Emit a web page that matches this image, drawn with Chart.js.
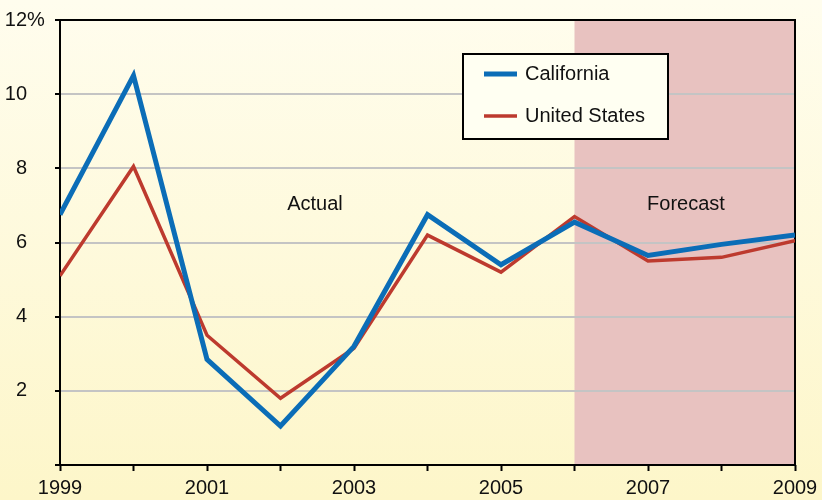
<!DOCTYPE html>
<html>
<head>
<meta charset="utf-8">
<script src="https://cdn.jsdelivr.net/npm/chart.js@4/dist/chart.umd.min.js"></script>
<style>
  html, body { margin: 0; padding: 0; }
  body { width: 822px; height: 500px; background: linear-gradient(#fffdee, #fdf6c9); overflow: hidden; }
  canvas { display: block; }
</style>
</head>
<body>
<canvas id="chart" width="822" height="500"></canvas>
<script>
// data
var years = [1999, 2000, 2001, 2002, 2003, 2004, 2005, 2006, 2007, 2008, 2009];
var california = [6.75, 10.5, 2.85, 1.05, 3.2, 6.75, 5.4, 6.55, 5.65, 5.95, 6.2];
var unitedStates = [5.1, 8.05, 3.5, 1.8, 3.15, 6.2, 5.2, 6.7, 5.5, 5.6, 6.05];
var seriesNames = ['California', 'United States'];
var forecastFrom = 2006, forecastTo = 2009;

var blue = '#0b6db7', red = '#bd3a2e';
var font = "'Liberation Sans', Arial, sans-serif";
var fs = 20;

function toPoints(vals) {
    return years.map(function (y, i) { return { x: y, y: vals[i] }; });
}

// band goes under the gridlines
var band = {
    id: 'band',
    beforeDraw: function (chart) {
        var c = chart.ctx, a = chart.chartArea, xs = chart.scales.x;
        var x0 = xs.getPixelForValue(forecastFrom), x1 = xs.getPixelForValue(forecastTo);
        c.save();
        c.fillStyle = '#e8c2c0';
        c.fillRect(x0, a.top, x1 - x0, a.bottom - a.top);
        c.restore();
    }
};

// box border, labels, legend
var decor = {
    id: 'decor',
    beforeDatasetsDraw: function (chart) {
        var c = chart.ctx, a = chart.chartArea;
        c.save();
        c.strokeStyle = '#000';
        c.lineWidth = 2;
        c.strokeRect(a.left, a.top, a.right - a.left, a.bottom - a.top);
        c.fillStyle = '#111';
        c.font = fs + 'px ' + font;
        c.textAlign = 'center';
        c.textBaseline = 'middle';
        c.fillText('Actual', 315, 204);
        c.fillText('Forecast', 686, 204);
        // "%" after the top label
        c.textAlign = 'left';
        c.fillText('%', 27, chart.scales.y.getPixelForValue(12));
        c.restore();
    },
    afterDatasetsDraw: function (chart) {
        var c = chart.ctx;
        c.save();
        c.fillStyle = '#fffff2';
        c.fillRect(463, 54, 205, 85);
        c.strokeStyle = '#000';
        c.lineWidth = 2;
        c.strokeRect(463, 54, 205, 85);
        c.lineWidth = 5;
        c.strokeStyle = blue;
        c.beginPath(); c.moveTo(484, 74); c.lineTo(517, 74); c.stroke();
        c.lineWidth = 3.5;
        c.strokeStyle = red;
        c.beginPath(); c.moveTo(484, 116); c.lineTo(517, 116); c.stroke();
        c.fillStyle = '#111';
        c.font = fs + 'px ' + font;
        c.textAlign = 'left';
        c.textBaseline = 'middle';
        c.fillText(seriesNames[0], 525, 74);
        c.fillText(seriesNames[1], 525, 116);
        c.restore();
    }
};

new Chart(document.getElementById('chart'), {
    type: 'line',
    data: {
        datasets: [{
            label: seriesNames[0],
            data: toPoints(california),
            borderColor: blue,
            borderWidth: 5,
            pointRadius: 0,
            tension: 0
        }, {
            label: seriesNames[1],
            data: toPoints(unitedStates),
            borderColor: red,
            borderWidth: 3.5,
            pointRadius: 0,
            tension: 0
        }]
    },
    options: {
        responsive: false,
        animation: false,
        devicePixelRatio: 1,
        layout: { padding: { top: 20, right: 27, left: 0, bottom: 0 } },
        plugins: { legend: { display: false }, tooltip: { enabled: false } },
        scales: {
            x: {
                type: 'linear', min: 1999, max: 2009,
                afterFit: function (s) { s.height = 35; s.paddingLeft = 0; s.paddingRight = 0; },
                border: { display: false },
                grid: { drawOnChartArea: false, drawTicks: true, tickLength: 6, tickColor: '#000', tickWidth: 2 },
                ticks: {
                    stepSize: 1, color: '#111', padding: 5, maxRotation: 0, autoSkip: false,
                    font: { family: font, size: fs },
                    callback: function (v) { return (v - 1999) % 2 === 0 ? String(v) : ''; }
                }
            },
            y: {
                min: 0, max: 12,
                afterFit: function (s) { s.width = 60; s.paddingTop = 0; s.paddingBottom = 0; },
                border: { display: false },
                grid: {
                    color: function (ctx) { var v = ctx.tick && ctx.tick.value; return (v === 0 || v === 12) ? 'rgba(0,0,0,0)' : '#c4c4c4'; },
                    lineWidth: 2, tickLength: 5, tickColor: '#000', tickWidth: 2
                },
                ticks: {
                    stepSize: 2, color: '#111', padding: 28, autoSkip: false,
                    font: { family: font, size: fs },
                    callback: function (v) { return v === 0 ? '' : String(v); }
                }
            }
        }
    },
    plugins: [band, decor]
});
</script>
</body>
</html>
